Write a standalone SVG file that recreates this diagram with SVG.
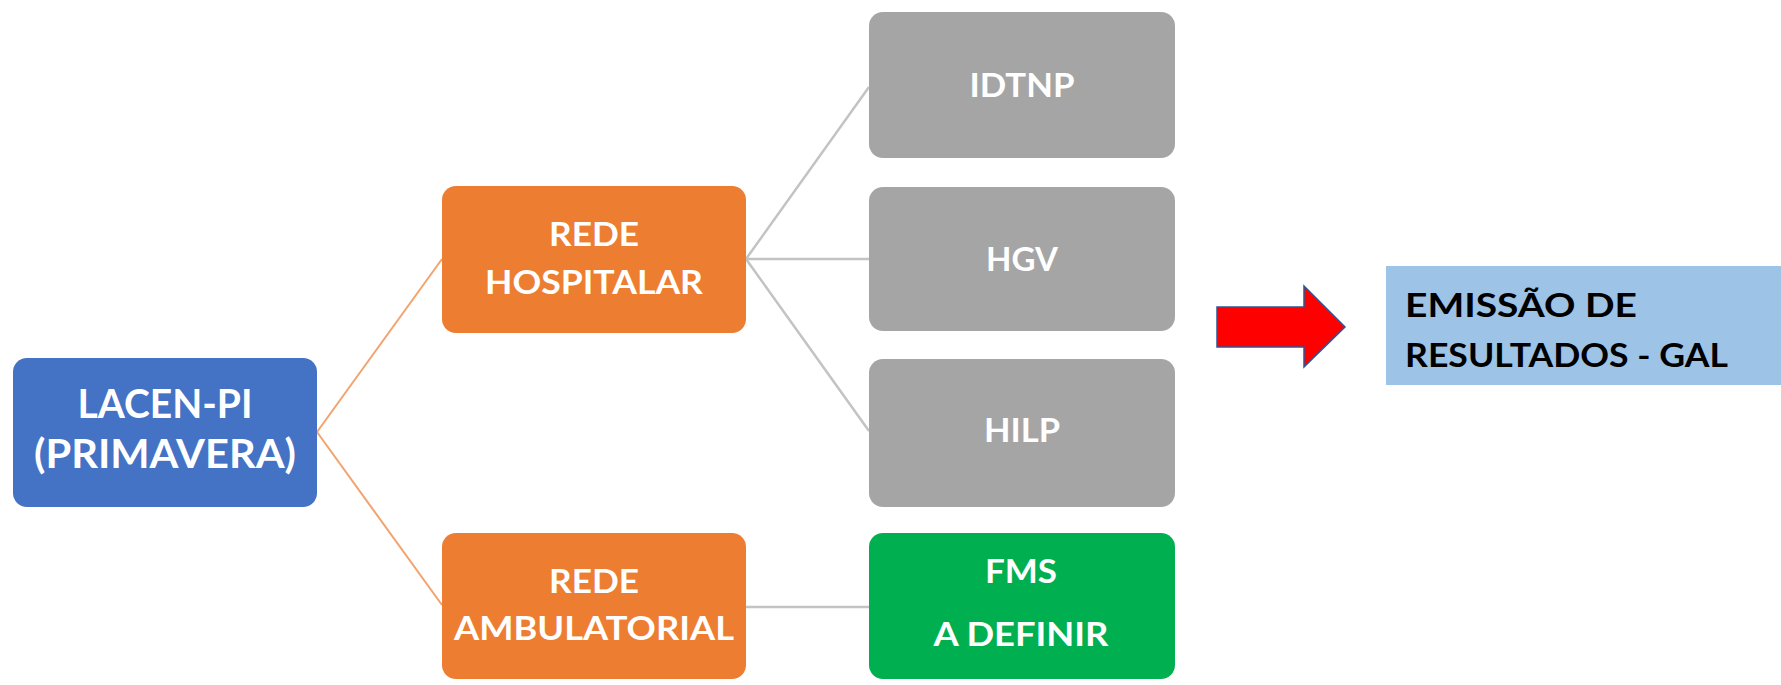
<svg xmlns="http://www.w3.org/2000/svg" width="1781" height="685" viewBox="0 0 1781 685">
<style>
.lbl{font-family:Lato,"Open Sans","Liberation Sans",sans-serif;font-weight:700;fill:#FFFFFF;text-anchor:middle}
.n33{font-size:33px}
.n41{font-size:41px}
.dark{font-family:Lato,"Open Sans","Liberation Sans",sans-serif;font-weight:700;fill:#000000;font-size:33px}
.orange{stroke:#F2A36E;stroke-width:2;fill:none}
.gray{stroke:#C3C3C3;stroke-width:2.5;fill:none}
</style>
<rect width="1781" height="685" fill="#FFFFFF"/>
<g id="connectors">
<line class="orange" x1="317" y1="432" x2="442" y2="259"/>
<line class="orange" x1="317" y1="432" x2="442" y2="605"/>
<line class="gray" x1="746" y1="259" x2="869" y2="87"/>
<line class="gray" x1="746" y1="259" x2="869" y2="259"/>
<line class="gray" x1="746" y1="259" x2="869" y2="431"/>
<line class="gray" x1="746" y1="607" x2="869" y2="607"/>
</g>
<g id="lacen">
<rect x="13" y="358" width="304" height="149" rx="14" fill="#4472C4"/>
<text class="lbl n41" x="165" y="418" textLength="175" lengthAdjust="spacingAndGlyphs">LACEN-PI</text>
<text class="lbl n41" x="165" y="468" textLength="262" lengthAdjust="spacingAndGlyphs">(PRIMAVERA)</text>
</g>
<g id="rede-hospitalar">
<rect x="442" y="186" width="304" height="147" rx="14" fill="#ED7D31"/>
<text class="lbl n33" x="594" y="246" textLength="90" lengthAdjust="spacingAndGlyphs">REDE</text>
<text class="lbl n33" x="594" y="294" textLength="218" lengthAdjust="spacingAndGlyphs">HOSPITALAR</text>
</g>
<g id="rede-ambulatorial">
<rect x="442" y="533" width="304" height="146" rx="14" fill="#ED7D31"/>
<text class="lbl n33" x="594" y="593" textLength="90" lengthAdjust="spacingAndGlyphs">REDE</text>
<text class="lbl n33" x="594" y="640" textLength="280" lengthAdjust="spacingAndGlyphs">AMBULATORIAL</text>
</g>
<g id="idtnp">
<rect x="869" y="12" width="306" height="146" rx="14" fill="#A5A5A5"/>
<text class="lbl n33" x="1022" y="97" textLength="105" lengthAdjust="spacingAndGlyphs">IDTNP</text>
</g>
<g id="hgv">
<rect x="869" y="187" width="306" height="144" rx="14" fill="#A5A5A5"/>
<text class="lbl n33" x="1022" y="271" textLength="72" lengthAdjust="spacingAndGlyphs">HGV</text>
</g>
<g id="hilp">
<rect x="869" y="359" width="306" height="148" rx="14" fill="#A5A5A5"/>
<text class="lbl n33" x="1022" y="442" textLength="76" lengthAdjust="spacingAndGlyphs">HILP</text>
</g>
<g id="fms">
<rect x="869" y="533" width="306" height="146" rx="14" fill="#00B050"/>
<text class="lbl n33" x="1021" y="583" textLength="72" lengthAdjust="spacingAndGlyphs">FMS</text>
<text class="lbl n33" x="1021" y="646" textLength="175" lengthAdjust="spacingAndGlyphs">A DEFINIR</text>
</g>
<g id="arrow">
<polygon points="1217,307 1304,307 1304,286 1345,327 1304,367 1304,347 1217,347" fill="#FF0000" stroke="#2F5597" stroke-width="1.5" stroke-linejoin="miter"/>
</g>
<g id="emissao">
<rect x="1386" y="266" width="395" height="119" fill="#9DC3E6"/>
<text class="dark" x="1405" y="317" textLength="232" lengthAdjust="spacingAndGlyphs">EMISSÃO DE</text>
<text class="dark" x="1405" y="367" textLength="323" lengthAdjust="spacingAndGlyphs">RESULTADOS - GAL</text>
</g>
</svg>
